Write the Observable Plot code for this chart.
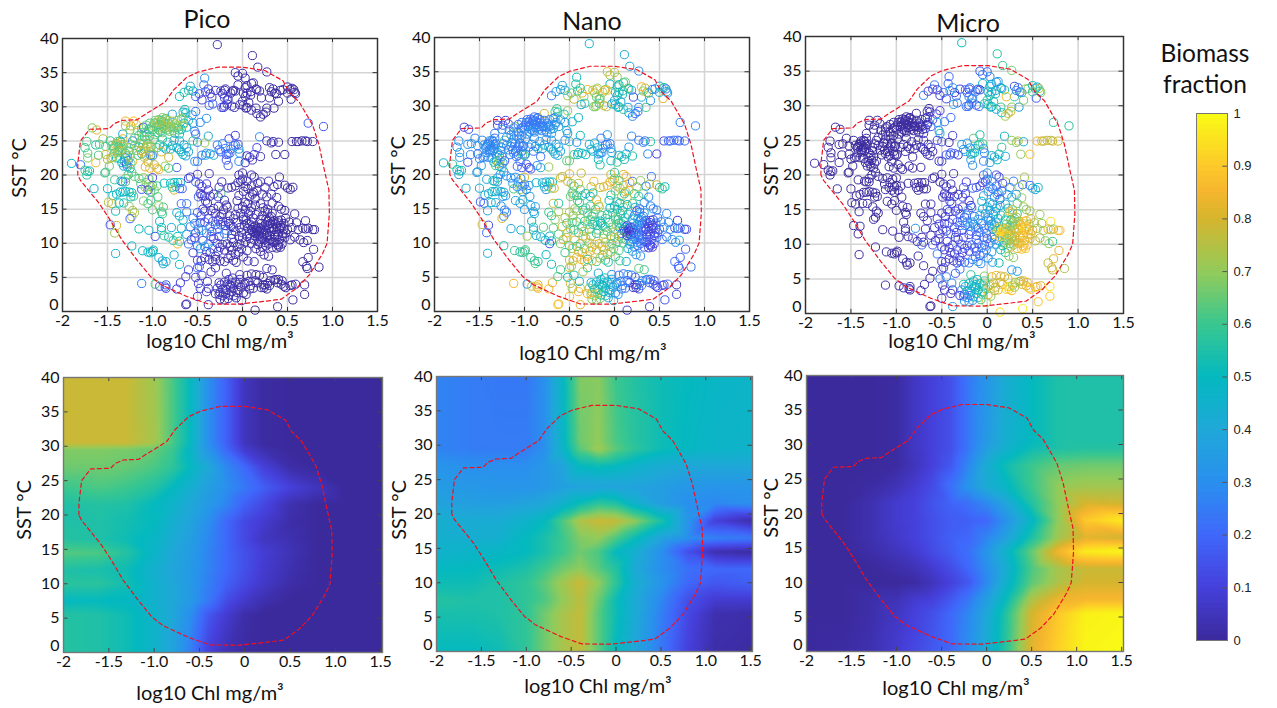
<!DOCTYPE html>
<html>
<head>
<meta charset="utf-8">
<script src="https://cdn.jsdelivr.net/npm/d3@7"></script>
<script src="https://cdn.jsdelivr.net/npm/@observablehq/plot@0.6"></script>
<style>
html,body{margin:0;padding:0;background:#fff}
#page{position:relative;width:1277px;height:708px;overflow:hidden;font-family:Lato,"Open Sans",sans-serif;color:#111}
#page svg{position:absolute;background:transparent;overflow:visible}
.t{position:absolute;white-space:nowrap;transform:translate(-50%,-50%);line-height:1}
.r{transform:translate(-50%,-50%) rotate(-90deg)}
</style>
</head>
<body>
<div id="page"></div>
<script>
// Tick values and labels
const xTicks = [-2,-1.5,-1,-0.5,0,0.5,1,1.5];
const xTickLabels = ["-2","-1.5","-1.0","-0.5","0","0.5","1.0","1.5"];
const yTicks = [0,5,10,15,20,25,30,35,40];
const barTicks = [0,.1,.2,.3,.4,.5,.6,.7,.8,.9,1];
const barLabels = ["0","0.1","0.2","0.3","0.4","0.5","0.6","0.7","0.8","0.9","1"];
const colorStops = [0,.1,.2,.3,.4,.5,.6,.7,.8,.85,.9,1];
const colorRange = ["#3b2a9c","#4640dc","#3f68fb","#2a90ee","#1fa8d8","#04b9bf","#3ac78f","#93cb5a","#d6b52e","#f5b52e","#fdc92a","#f9fb15"];

// 90% contour (log10 Chl, SST)
const contourX = [-1.83,-1.83,-1.80,-1.70,-1.48,-1.43,-1.34,-1.17,-1.08,-.98,-.86,-.77,-.62,-.49,-.27,0,.25,.45,.52,.63,.78,.85,.91,.96,.965,.94,.89,.745,.6,.43,.25,-.05,-.38,-.62,-.9,-1.02,-1.17,-1.34,-1.48,-1.59,-1.8,-1.83];
const contourY = [20,21.7,25,26.7,26.8,27.5,28,28.1,28.9,29.7,30.7,32.4,34.3,35.1,35.8,35.8,35.3,33.8,32.1,30.7,27.3,24.4,20.7,17.8,14.4,10,8.5,5.4,3.4,1.8,1.5,1.07,1.1,2.2,3.9,5.1,7.5,10.5,13.6,15.8,19.2,20];

// Observations: [log10 Chl, SST, pico %, nano %, micro %]
const outliers = [[-.28,39.1,3,46,51],[.11,37.5,2,42,56],[.17,35.8,2,38,60],[.27,35.1,3,30,67]];
const warmNorth = [
[-.42,34.2,30,50,20],[-.08,35,3,80,17],[-.05,34.5,3,72,25],[0,34.9,3,78,19],[.03,34.2,2,68,30],[-.05,33.2,5,48,47],[.1,33.4,3,60,37],[.05,33.1,3,50,47],[.12,33.5,3,65,32],
[-.55,32.3,50,45,5],[-.65,32.1,55,38,7],[-.6,32.4,55,35,10],[-.52,31.5,20,70,10],[-.48,31.9,15,62,23],[-.45,31,10,78,12],[-.36,31.9,10,82,8],[-.34,31.4,8,70,22],[-.3,32.4,6,85,9],[-.38,32.6,8,60,32],
[-.2,32.4,2,88,10],[-.19,32.6,2,70,28],[-.11,32.3,2,85,13],[-.1,32.4,2,70,28],[-.08,32.3,2,88,10],[-.16,31.1,5,65,30],[-.22,31.9,6,78,16],[-.2,31.3,10,65,25],[-.17,31,12,60,28],
[-.2,30.1,12,72,16],[-.23,29.9,12,65,23],[-.21,29.9,8,70,22],[-.17,30.4,8,60,32],[-.12,30.1,5,80,15],[-.09,29.9,4,75,21],[-.03,30.3,3,42,55],[0,30.8,3,38,59],[.01,30.2,3,48,49],[.04,29.8,2,46,52],[.05,29.9,2,52,46],[.07,30.6,2,40,58],[.1,29.5,2,60,38],[.15,29.8,2,38,60],[.16,29,2,45,53],[.2,28.5,1,28,71],[.23,28.9,1,22,77],[.26,29.2,1,20,79],[.27,29.8,1,30,69],[.35,29.8,1,62,37],[.4,30.8,2,30,68],[.3,31.3,1,42,57],
[.3,32.8,1,85,14],[.34,32.6,1,78,21],[.32,32.2,1,70,29],[.36,32,1,80,19],[.38,31.9,1,60,39],[.42,32.4,1,30,69],[.45,32.5,2,30,68],[.5,32.9,1,45,54],[.53,32.5,1,58,41],[.55,32.7,1,55,44],[.57,32.5,1,22,77],[.58,32.1,1,40,59],[.59,31.9,1,30,69],[.54,31.1,1,82,17],[.5,32,2,38,60],
[.19,32.3,2,42,56],[.21,31.3,1,12,87],[.15,32.6,2,70,28],[.16,32.5,2,48,50],[.09,32.2,2,60,38],[.05,32,2,45,53],[.03,32.8,2,55,43],[.01,32,3,55,42],[.03,31.5,3,48,49],[.09,31.7,2,52,46],
[-.66,29.2,40,62,3],[-.63,29.1,50,55,5],[-.52,29.3,22,70,10],[-.4,28.3,32,48,20],[-.47,27.7,30,46,24],[-.56,28.8,35,56,9],[-.7,31.5,50,25,25],[-.58,33,38,40,22],[-.64,29.6,52,60,0],[-.33,30.4,18,58,24],[-.37,30.2,20,42,38],[-.24,32.3,8,72,20],[-.13,32,3,72,25],[-.41,32.2,12,58,30],[-.43,33.2,25,55,20]
];
const warmMid = [
[-.7,26,55,40,5],[-.68,26.7,50,38,12],[-.65,27.6,50,35,15],[-.62,27,45,38,17],[-.6,28,55,32,13],[-.66,28.3,62,35,3],[-.72,27,58,32,10],[-.55,27.6,32,30,38],[-.53,26.4,28,45,27],[-.52,26,18,28,54],[-.38,25.7,40,50,10],[-.4,23.2,35,50,15],[-.41,22.9,38,42,20],[-.36,23.1,32,48,20],[-.45,22.9,25,60,15],[-.5,22,22,66,12],[-.53,22,30,64,6],[-.5,24.8,25,60,15],[-.42,24.7,70,30,0],[-.55,25,60,30,10],
[-.28,24.4,25,40,35],[-.26,23.7,22,46,32],[-.19,23.9,20,48,32],[-.18,23,18,30,52],[-.16,23.1,12,30,58],[-.14,23.2,30,28,42],[-.13,23.8,22,36,42],[-.15,25.3,12,24,64],[-.1,24.3,30,26,44],[-.08,24.4,18,22,60],[-.05,24.5,14,25,61],[-.04,23.8,35,35,30],[-.03,23.2,35,38,27],[-.04,22,28,48,24],[-.18,22.2,15,50,35],[-.16,21.4,18,55,27],
[.05,22.8,6,40,54],[.13,23,8,48,44],[.08,22.6,6,55,39],[.11,22.2,7,45,48],[.16,24,10,32,58],[.19,25.6,28,28,44],[.2,22.7,5,55,40],[.27,25,5,25,70],[.32,24.7,3,28,69],[.34,24.9,3,22,75],[.4,24.8,2,55,43],[.37,23,2,28,70],[.47,23,2,10,88],[.55,24.9,2,14,84],[.6,24.9,1,20,79],[.62,24.9,1,22,77],[.66,25,1,20,79],[.7,25,2,22,76],[.72,24.9,1,20,79],[.78,24.9,1,20,79],[.73,27.6,18,26,56],[.9,27.1,15,28,57],
[-.08,25.8,10,35,55],[.03,21.8,4,60,36],[-.32,22.9,42,50,8],[-.24,23.4,20,45,35],[-.22,24.6,28,40,32]
];
const tropical = [
[-1.9,21.7,48,44,2],[-1.8,21.5,22,60,1],[-1.75,20.7,62,48,1],[-1.72,20.5,55,56,1],[-1.7,20.6,50,52,0],[-1.65,18,45,44,0],[-1.73,20,58,36,0],[-1.73,24.9,62,30,1],[-1.75,24,60,32,2],[-1.72,23.2,62,34,0],[-1.72,22.5,68,34,0],[-1.67,26.9,68,10,1],[-1.62,26.6,82,15,2],[-1.63,21.8,85,14,1],[-1.6,22.9,62,28,0],[-1.63,24.4,55,34,0],[-1.59,24.5,60,30,0],[-1.55,25.3,75,26,0],[-1.52,24.2,62,32,0],[-1.52,23,78,18,1],[-1.5,22.3,75,30,0],[-1.52,20.4,60,38,1],[-1.53,20.3,62,36,0],[-1.48,21.3,65,34,1],[-1.46,22.5,80,25,0],[-1.47,25,58,30,0],
[-1.42,24.1,70,26,1],[-1.4,24.6,72,28,0],[-1.38,24.2,60,32,0],[-1.37,23.7,68,28,1],[-1.35,24.8,62,25,1],[-1.33,25.3,82,22,1],[-1.32,24.5,75,30,0],[-1.36,25,62,30,0],[-1.39,23.6,85,22,0],[-1.4,22.5,48,26,1],[-1.33,26,40,26,0],[-1.3,22.5,20,62,2],[-1.31,22,52,34,1],[-1.29,21.6,10,78,1],[-1.28,22.8,45,52,1],[-1.26,23.5,52,48,1],[-1.25,21,48,55,0],[-1.24,24.5,70,26,2],[-1.22,25,25,62,1],[-1.22,22,85,12,2],[-1.25,22.6,72,25,0],[-1.27,20,60,36,1],[-1.3,19.5,68,32,0],[-1.33,19,15,58,1],[-1.3,27.9,85,8,1],[-1.21,27.9,88,10,1],[-1.24,27.2,80,15,0],[-1.18,27.4,85,12,1],[-1.3,27.2,70,12,0],[-1.25,26.6,68,32,0],[-1.17,26.5,70,25,1],[-1.15,25.8,60,30,2],[-1.2,25.4,62,30,0],
[-1.12,25.2,72,28,0],[-1.1,24.6,65,28,0],[-1.08,23.9,72,26,1],[-1.05,24.6,80,24,1],[-1.03,23.4,82,22,0],[-1.15,24.1,55,28,1],[-1.12,23.1,50,32,0],[-1.09,22.6,78,22,1],[-1.05,21.9,80,20,0],[-1.03,21,85,15,2],[-1.08,21.2,80,22,1],[-1,22.8,25,52,1],[-.98,21.5,75,20,1],[-.95,21,85,12,1],[-.93,20.8,82,15,2],[-1.12,26.8,65,28,0],[-1.1,27,12,68,2],[-1.07,26.2,60,22,0],[-1.04,26.7,50,26,0],[-1.02,26.9,62,24,1],[-1,26.6,60,28,1],[-.98,27.6,60,25,1],[-.96,27,72,22,1],[-.94,27.2,65,24,0],[-.92,27.4,62,30,1],[-.9,26.9,68,25,0],[-.88,27.8,55,30,1],[-.87,26.8,75,22,0],[-.85,27.6,70,25,2],[-.9,28,60,25,1],[-.93,28.1,62,27,0],[-.85,28.3,70,18,0],[-.88,27.3,70,28,1],[-.84,26.6,62,22,1],[-.82,27.5,60,25,2],[-.8,27.1,70,26,0],[-.79,27,72,24,0],[-.77,26.5,68,28,1],[-.75,27.5,72,30,1],[-.75,26.1,60,28,1],[-.78,28.9,38,78,0],[-.72,28,65,30,1],[-.68,28.2,72,25,2],[-.66,27.3,72,32,1],[-.71,26.6,60,34,1],
[-.95,24,60,34,1],[-.92,24.4,58,30,0],[-.88,24.1,50,32,1],[-.85,23.8,45,42,2],[-.8,23.8,48,45,2],[-.78,24.3,42,38,2],[-.73,24,45,45,2],[-.7,23.7,50,42,5],[-.68,23.4,48,42,4],[-.66,23,50,40,3],[-.65,24.4,40,38,2],[-.62,24,42,38,5],[-.6,23.4,40,40,3],[-.63,22.8,38,40,4],[-.7,25,42,30,8],[-.76,25.1,42,28,3],[-.83,24.8,58,35,1],[-.89,25.3,55,30,1],[-.82,22.6,80,22,2],[-.86,21.3,70,30,1],[-.9,23.4,82,20,1],[-.73,21.1,18,72,2],[-.82,21,60,40,1],[-.99,23,70,25,1],[-1.02,22.9,32,62,0]
];
const tropicalCore = [
[-1.45,24.3,62,30,1],[-1.43,23.9,60,32,0],[-1.41,24.4,78,22,1],[-1.39,24.9,66,28,0],[-1.38,23.3,70,26,1],[-1.36,24,62,30,0],[-1.35,23.5,78,24,1],[-1.34,24.4,68,26,0],[-1.33,23.8,65,30,1],[-1.42,23.2,66,30,0],[-1.44,22.6,72,28,1],[-1.36,22.4,62,34,0],[-1.34,21.8,50,48,1],[-1.32,21.3,35,62,1],[-1.3,23.2,60,38,1],[-1.28,21.2,52,44,0],[-1.27,22.1,30,65,1],[-1.24,21.7,65,30,1],[-1.23,20.4,62,32,1],[-1.2,19.8,66,30,1],[-1.26,24,72,26,1],[-1.2,24.3,60,32,0],[-1.18,23.6,68,28,1],[-1.16,22.9,62,30,0],[-1.14,24.6,70,28,1],[-1.12,26.2,62,30,0],[-1.09,25.6,58,32,1],[-1.06,25.2,68,26,0],[-1.03,25.7,62,28,0],[-1.01,24.2,70,26,0],[-.99,25.2,62,30,1],[-.97,25.9,66,28,0],[-1.07,27.3,66,22,0],[-1.03,27.6,62,26,1],[-.99,27.2,70,24,1],[-.97,28,68,20,0],[-.95,27.7,72,22,1],[-.93,26.6,66,28,1],[-.91,26.4,62,30,0],[-.89,28.4,68,18,1],[-.87,27.2,70,28,1],[-.86,28.2,65,30,1],[-.83,28,72,22,0],[-.83,27,70,26,1],[-.81,26.4,68,28,0],[-.78,27.9,72,24,1],[-.76,26.9,66,28,1],[-.73,27.2,70,26,0],[-.91,27.8,74,22,1],[-.89,26.2,66,28,1],[-.94,26.2,60,32,1],[-1.13,23.6,78,22,1],[-1.1,23.4,80,20,0],[-1.07,22.8,76,25,1],[-1.06,24.2,72,24,0],[-1.02,24.1,70,24,1]
];
const subtropicalWest = [
[-1.42,19.3,60,38,1],[-1.35,19.1,45,50,0],[-1.3,19,60,32,1],[-1.44,17,48,44,0],[-1.4,17.2,50,40,1],[-1.36,17.5,50,45,1],[-1.33,17.5,45,48,1],[-1.3,17.6,48,42,0],[-1.26,17.5,52,40,1],[-1.23,17.4,50,46,1],[-1.24,16.8,52,36,0],[-1.21,16.9,60,32,0],[-1.5,18,50,44,0],[-1.49,16,75,18,1],[-1.45,15.8,78,20,0],[-1.41,14.7,52,38,1],[-1.37,15.9,50,48,1],[-1.32,15.9,55,40,0],[-1.26,15.4,68,32,0],[-1.22,14.8,75,28,1],[-1.2,14.5,72,22,1],[-1.23,13.9,75,28,0],[-1.25,13.6,20,80,1],
[-1.15,19.5,60,32,1],[-1.13,18.7,62,36,0],[-1.1,19.6,70,30,0],[-1.07,18.9,68,28,0],[-1.04,19.4,65,30,0],[-1.02,18.3,75,22,0],[-1,18.5,60,28,0],[-1,19.6,12,80,0],[-1.05,17.8,12,72,1],[-1.12,17.9,15,62,1],[-1.08,18.2,70,30,0],[-.98,17.8,70,25,1],[-.95,18.4,62,30,2],[-.94,16.8,62,38,2],[-1.02,17.5,62,34,0],[-1.1,16.2,68,38,0],[-1.05,15.8,62,38,0],[-1.02,16.3,60,42,1],[-1,14.9,62,32,0],[-.93,15.5,72,36,2],[-.9,14.6,60,38,2],[-.89,14.3,62,40,0],[-.88,15.3,62,38,1],[-.92,13.2,50,46,1],
[-.87,18.8,50,48,1],[-.8,18.8,52,40,0],[-.76,18.9,52,42,2],[-.74,18.3,52,55,0],[-.72,18.9,48,48,0],[-.69,18.9,48,52,0],[-.7,18,18,70,1],[-.76,17.8,80,30,1],[-.78,18.2,55,42,2],[-.67,18,18,80,1],[-.68,15.8,20,78,1],[-.73,14.5,42,60,3],[-.7,14,48,55,2],[-.66,13.4,45,70,4],[-.62,14.6,25,72,5],[-.62,15.8,22,55,5],[-.79,12.3,40,62,30],
[-1.47,12.7,15,78,1],[-1.4,12.6,78,12,1],[-1.42,11.5,72,20,0],[-1.15,12.1,52,38,0],[-1.04,11.9,48,46,1],[-.97,11,15,72,1],[-.9,11.9,55,40,2],[-.9,12.3,48,55,2],[-.87,11.1,60,42,1],[-.82,10.9,52,48,10],[-.77,10.4,58,45,3],[-.72,11,52,44,2],[-.68,12.2,50,62,5],[-.7,10.3,58,50,3],[-.72,9.9,85,12,20],[-1.23,9.6,45,55,1],[-1.41,8.5,42,42,1],[-1.11,8.9,48,60,1],[-1.05,8.7,45,56,1],[-1.02,8.6,48,58,1],[-.99,9,52,60,1],[-1,8.8,50,62,1],[-.93,7.9,44,58,1],[-.89,7.4,38,60,1],[-.85,7.3,45,55,0],[-.88,7,40,62,1],[-.76,8.3,42,48,3],[-.7,6.9,50,50,2]
];
const temperateWest = [
[-.58,19.7,12,76,2],[-.6,19.5,8,80,2],[-.52,19,22,78,3],[-.48,18.7,8,70,3],[-.45,18.3,10,62,8],[-.4,18.7,10,78,4],[-.38,17.8,6,65,5],[-.5,20.1,8,82,3],[-.37,20.2,5,78,3],[-.47,17.3,6,62,4],[-.49,16.8,18,65,3],[-.45,17,5,70,10],[-.42,16.9,8,55,8],[-.41,16.2,10,60,10],[-.36,16.9,6,62,4],[-.32,17.2,4,40,5],[-.27,16.8,8,50,15],[-.24,17.3,60,52,5],[-.2,16.3,5,80,10],[-.18,15.6,4,88,5],[-.44,15,6,72,12],[-.42,14.7,8,68,10],[-.39,15.9,4,60,15],[-.35,14.8,4,55,8],[-.32,15.1,5,60,10],[-.3,14.4,6,65,20],[-.27,15.4,4,60,8],[-.25,13.9,5,55,10],[-.23,14.2,3,70,25],[-.21,14.9,3,62,30],[-.17,15.3,2,70,20],[-.14,14,2,62,20],
[-.62,11.3,35,62,5],[-.58,12.4,22,78,5],[-.55,13.7,22,75,8],[-.53,12.9,35,62,10],[-.5,14.5,18,72,8],[-.49,12.1,30,65,10],[-.47,13,12,65,12],[-.45,11.9,32,60,10],[-.44,10.4,12,85,8],[-.4,11.5,30,60,22],[-.38,13.6,10,72,8],[-.36,12.4,32,60,12],[-.33,13.2,18,60,20],[-.3,12.7,12,72,25],[-.28,12,28,62,15],[-.26,11,10,75,15],[-.24,12.7,22,55,28],[-.22,13.2,8,55,30],[-.2,11.4,30,55,12],[-.18,11.9,25,60,18],[-.15,12.9,6,50,30],[-.13,12.5,8,55,28],[-.12,11.3,5,72,15],[-.1,12.3,5,62,22],[-.08,11.7,4,60,20],[-.06,13,4,55,25],[-.04,11,4,60,30],
[-.6,9.9,22,65,15],[-.57,10.5,15,78,5],[-.53,10.8,8,75,10],[-.5,9.6,28,65,8],[-.47,9.2,35,72,6],[-.42,9.5,38,60,10],[-.4,8.8,10,80,8],[-.38,9.9,30,62,12],[-.36,8.6,8,78,6],[-.33,9.2,25,65,18],[-.3,8.1,6,85,10],[-.27,8.8,5,80,10],[-.25,9.4,6,70,12],[-.22,9.8,3,85,18],[-.2,9,4,82,12],[-.17,9.9,3,80,15],[-.14,9.5,4,72,18],[-.1,10.1,3,78,22],[-.06,9.5,2,70,25],[-.03,9.9,3,60,18],[-.55,8.6,8,60,25],[-.5,7.5,10,78,6],[-.46,7.4,5,80,7],[-.42,7.9,5,80,8],[-.37,7.6,4,85,8],[-.33,7.3,4,82,10],[-.3,7.6,3,60,15],[-.25,7.4,3,85,15],[-.2,7.3,3,62,28],[-.16,7.8,2,72,25],[-.13,8.2,2,65,20],[-.1,7.5,2,60,30],[-.07,7.2,2,55,28]
];
const temperateEast = [
[-.12,18.2,3,80,15],[-.08,18.4,3,85,12],[-.05,18.9,3,82,12],[-.02,19.1,3,85,12],[0,19.4,3,70,20],[.03,18.3,2,72,24],[-.04,20,3,78,18],[.0,20.3,3,60,36],[.1,20,3,82,14],[.13,19.7,3,85,12],[.2,19,4,22,74],[.29,19.1,5,70,25],[.25,18.2,2,70,28],[.41,19.7,2,25,73],[.39,18.6,2,78,20],[.35,18.3,2,28,70],[.47,18.5,2,78,20],[.5,18.1,1,58,41],[.53,17.9,1,60,39],[.56,18.2,1,50,49],[.06,18,3,75,22],[.01,17.6,2,68,30],[.12,17.5,2,72,26],[.16,17.7,2,80,18],[.11,17.2,2,55,43],[.08,16.8,2,72,25],[.22,17.2,2,60,38],[.27,16.8,2,55,43],[.32,17.2,2,65,33],[.38,16.7,2,28,70],[-.04,17,3,58,38],[-.06,16.2,3,50,48],[.03,16,2,60,38],[.14,16.5,2,85,13],[.2,15.8,2,60,38],[.23,15.2,2,45,53],[.33,15.9,2,35,63],[.4,15.4,2,25,73],[.43,15,2,30,68],[.58,14.3,1,28,71],[.47,14.8,1,25,74],
[.0,15.4,3,50,40],[.03,14.9,3,55,40],[.07,14.3,3,55,41],[.09,14.7,3,48,48],[.12,13.7,2,58,39],[.15,14.2,2,45,52],[.2,13.5,2,45,53],[.25,14.7,2,15,83],[.28,14.5,2,20,78],[.3,13.7,2,35,63],[.33,14.4,2,42,56],[.01,13.5,4,65,25],[.02,12.6,4,70,24],[.05,12.9,3,55,38],[.08,12.8,3,60,36],[.1,12,2,48,49],[.11,11.7,1,5,94],[.13,11.6,1,4,95],[.15,11.4,1,5,94],[.17,11.7,1,4,95],[.19,11.8,1,5,94],[.16,12.1,1,6,92],[.14,12.5,1,8,91],[.2,12.2,2,12,85],[.23,12,2,25,73],[.26,11.9,2,28,70],[.28,12.6,2,22,76],[.31,12.9,2,28,70],[.34,12.3,2,25,73],[.37,12.8,1,15,84],[.4,13.3,1,8,91],[.43,12.3,1,10,89],[.46,12.9,1,30,69],[.38,11.7,1,8,91],[.41,12.1,1,6,93],[.45,11.4,1,12,87],[.5,12,1,20,79],[.55,12.3,1,25,74],[.6,13,1,30,69],[.62,12,1,30,69],[.7,13.3,1,5,94],[.67,12.2,1,15,84],[.7,12.1,1,22,77],[.73,12.2,1,30,69],[.78,12,1,12,87],[.8,12,1,14,86],[.52,13.1,1,25,74],[.48,13.7,1,22,77],
[.05,11,2,70,25],[.03,10.2,3,65,22],[.08,10.7,2,62,30],[.1,10,2,60,35],[.13,10.5,2,65,30],[.17,9.8,2,40,50],[.2,10.6,2,30,65],[.22,9.4,2,25,72],[.25,10.1,2,32,60],[.27,10.9,2,28,70],[.29,9.9,2,25,72],[.31,10.6,1,22,77],[.34,10.2,1,20,79],[.36,10.9,1,18,81],[.39,9.8,1,12,87],[.42,9.4,1,10,89],[.44,9.9,1,12,87],[.41,10.5,1,18,81],[.47,10.8,1,20,79],[.53,10.5,1,25,74],[.58,10.9,1,22,77],[.64,10.5,1,32,67],[.68,10.1,1,28,70],[.72,10.4,1,38,60],[.79,9.1,1,18,82],[.2,8.8,2,40,58],[.24,8.3,2,28,70],[.29,8.1,2,30,68],[.05,8.9,3,62,30],[.13,7.3,3,45,52],[.01,8,3,62,30],[.06,7.4,4,60,36],[.73,7.9,1,18,81],[.67,7.3,1,22,77],[.71,6.6,1,18,80],[.72,6.3,1,20,79],[.85,6.5,1,25,74],[.27,6.3,3,65,32],[.33,6.1,3,60,37]
];
const temperateCore = [
[-.02,14.4,4,60,32],[.01,13.9,3,62,32],[.04,13.4,3,58,36],[.06,12.2,2,52,44],[.08,11.4,2,18,80],[.1,13.1,2,55,42],[.12,12.3,2,25,73],[.14,11.1,1,6,93],[.16,11.9,1,6,93],[.18,12.3,1,12,86],[.18,11.2,1,6,93],[.21,11.5,1,8,91],[.21,12.9,2,38,60],[.22,10.9,2,25,73],[.24,11.4,2,22,76],[.25,12.7,2,30,68],[.26,13.5,2,42,56],[.27,11.2,2,20,78],[.28,13.2,2,32,66],[.3,12.2,2,24,74],[.3,11.2,1,22,77],[.32,11.7,1,20,79],[.33,13.1,1,25,74],[.35,12,1,12,87],[.35,13.3,1,20,79],[.36,11.2,1,14,85],[.38,12.4,1,12,87],[.39,13,1,10,89],[.4,11.3,1,12,87],[.42,12.6,1,8,91],[.43,13.4,1,14,85],[.44,11.1,1,10,89],[.46,12.1,1,15,84],[.48,11.5,1,18,81],[.24,10.5,2,28,70],[.26,9.6,2,22,76],[.3,10.4,1,24,75],[.33,9.4,1,18,81],[.36,10.1,1,15,84],[.38,9.3,1,10,89],[.4,9.6,1,10,89],[.18,10.2,2,30,65],[.15,9.2,2,45,52],[.22,14,2,28,70],[.28,15,2,22,76],[.32,13.9,2,25,73],[.06,15.8,3,50,46],[.1,15.2,3,65,32],[.14,15.6,2,52,46],[-.05,15.1,3,50,42],[-.08,14.2,3,55,36],[-.1,13.6,4,60,32],[-.03,12.3,3,65,28],[-.01,11.6,3,72,20],[0,10.8,3,78,16],[-.12,10.7,4,72,18],[-.16,13.2,4,50,35],[-.19,12.6,6,55,30],[-.27,13.4,6,62,22],[-.34,11.7,10,72,10],[-.42,13.1,12,58,15],[-.46,14,15,70,8],[-.52,11.5,12,82,6],[-.28,10,8,75,12],[-.32,10.7,10,70,12],[-.35,11,12,80,8],[-.12,9,3,85,14],[-.08,8.4,3,80,18],[-.04,8.7,3,70,25],[-.01,9.2,3,65,28],[.1,18.4,2,78,20],[.05,19.1,3,62,35],[.17,18.8,3,84,14],[-.16,18.1,3,78,18],[-.23,19,6,85,10],[-.26,18.2,4,76,15]
];
const coldBand = [
[-1.12,4.1,25,85,2],[-.97,4,62,32,2],[-.92,3.7,12,75,3],[-.86,3.6,20,85,3],[-.85,3.9,15,80,2],[-.85,3.4,15,85,1],[-.73,3.3,8,85,2],[-.69,4.2,10,82,3],[-.63,5.1,8,62,2],[-.63,1,3,92,1],[-.62,1.1,5,85,0],[-.6,6.1,12,60,2],[-.52,5,10,50,25],[-.49,4.1,8,78,8],[-.5,2.2,8,85,5],[-.47,3.4,12,70,5],[-.4,2.9,6,85,6],[-.38,3.4,6,78,4],[-.39,4.4,6,45,30],[-.38,1,5,82,35],[-.45,5.3,8,55,25],[-.48,6.6,15,70,10],[-.5,6.4,20,78,8],[-.35,5.8,5,72,15],[-.3,6.4,4,60,25],[-.26,4.2,4,42,55],[-.28,3.4,5,70,28],[-.26,2.5,4,72,30],[-.25,1.8,3,70,30],[-.22,2.3,4,78,28],[-.2,1.7,3,65,40],[-.2,4.3,5,52,50],[-.18,5.6,5,42,58],[-.15,4.7,4,48,52],[-.14,3.9,3,42,50],[-.12,4.2,3,48,50],[-.1,2.3,3,45,60],[-.1,3.4,2,55,45],[-.08,4.3,2,45,50],[-.06,2.8,2,38,60],[-.04,4,2,45,55],[-.03,5.4,3,30,68],[-.02,3.6,2,42,60],[-.01,1.6,3,50,75],[.01,2.7,2,28,82],[.02,4,2,30,80],[.03,4.2,2,35,78],[.05,5.3,2,22,80],[.1,5.5,2,25,85],[.15,5.4,2,30,80],[.19,5.3,2,24,78],[.23,5,2,18,82],[.12,3.4,1,22,85],[.17,4.2,1,15,80],[.14,.2,1,8,95],[.21,3.5,1,8,92],[.23,3.9,1,8,90],[.24,3.5,1,5,92],[.25,3.9,1,6,95],[.35,4.6,1,22,78],[.37,4.7,1,25,75],[.39,4.2,1,18,82],[.4,4.7,1,22,80],[.44,4.5,1,15,85],[.46,3.7,1,12,88],[.48,3.5,1,10,90],[.53,3.8,1,12,86],[.55,3.9,1,15,85],[.59,4,1,20,80],[.39,.7,1,8,98],[.56,1.7,1,15,88],[.69,3.9,1,5,95],[.69,2.5,1,12,90],
[-.3,2.6,4,85,12],[-.25,2.8,3,82,15],[-.18,3.2,3,60,40],[-.15,2.4,3,55,45],[-.13,3.7,3,50,48],[-.07,2,3,38,62],[.04,2.5,2,30,70],[.08,3.3,2,25,75],[.28,4.1,1,30,70],[.3,3.8,1,26,74],
[-.24,3.9,4,45,45],[-.22,3.3,4,55,40],[-.17,4,4,40,50],[-.11,4.9,4,50,42],[-.16,1.9,3,68,32],[-.19,2.6,4,70,25],[-.12,2.9,3,52,48],[-.05,3.1,2,45,55],[-.03,4.7,2,38,60],[.07,4.4,2,28,74],[.09,3.8,2,26,78],[.14,4.5,1,20,80],[.27,3.3,1,15,85],[.31,4.5,1,28,72],[.43,4,1,18,82]
];
const observations = [...outliers,...warmNorth,...warmMid,...tropical,...tropicalCore,...subtropicalWest,...temperateWest,...temperateEast,...temperateCore,...coldBand];

// Gridded model output (rows: SST, columns: log10 Chl)
const gridX = [-2,-1.6,-1.3,-1,-.8,-.6,-.4,-.2,0,.2,.5,.8,1.1,1.52];
const gridY = [0,5.5,7.5,10,12,14.5,16.5,19,21.5,24,27,29.5,30.5,40];
const picoGrid = [
[.56,.55,.52,.46,.38,.26,.1,.04,.01,0,0,0,0,0],
[.56,.55,.52,.46,.4,.3,.16,.08,.02,0,0,0,0,0],
[.5,.5,.49,.45,.4,.34,.24,.13,.07,.03,0,0,0,0],
[.57,.57,.53,.45,.4,.34,.26,.18,.12,.07,.02,0,0,0],
[.55,.54,.52,.44,.39,.34,.27,.2,.14,.08,.03,0,0,0],
[.63,.62,.56,.47,.4,.35,.27,.2,.14,.09,.04,0,0,0],
[.56,.55,.52,.48,.42,.36,.28,.2,.12,.06,.03,0,0,0],
[.55,.55,.53,.5,.44,.38,.3,.2,.12,.08,.02,0,0,0],
[.55,.56,.55,.5,.46,.4,.34,.27,.18,.12,.03,0,0,0],
[.6,.62,.6,.56,.5,.44,.36,.3,.24,.18,.1,.05,0,0],
[.66,.66,.65,.62,.58,.5,.4,.28,.2,.1,.02,0,0,0],
[.68,.68,.67,.65,.6,.48,.32,.2,.08,.03,0,0,0,0],
[.78,.78,.78,.73,.62,.5,.3,.18,.05,.01,0,0,0,0],
[.78,.78,.78,.72,.62,.5,.3,.18,.05,.01,0,0,0,0]
];
const nanoGrid = [
[.5,.5,.52,.58,.66,.73,.77,.64,.5,.4,.24,.1,.02,.01],
[.54,.54,.55,.58,.66,.73,.77,.64,.52,.42,.26,.12,.03,.02],
[.56,.55,.55,.58,.62,.7,.76,.66,.52,.42,.28,.14,.08,.08],
[.52,.52,.55,.58,.64,.72,.78,.7,.58,.44,.32,.2,.16,.18],
[.5,.5,.52,.55,.6,.66,.7,.64,.56,.42,.3,.22,.2,.2],
[.45,.47,.48,.5,.54,.6,.66,.62,.5,.44,.3,.14,.03,.01],
[.44,.43,.44,.5,.54,.6,.68,.7,.62,.52,.38,.3,.26,.24],
[.44,.42,.42,.46,.5,.62,.74,.78,.77,.7,.55,.32,.1,.02],
[.38,.36,.36,.38,.4,.45,.52,.58,.56,.46,.36,.3,.28,.3],
[.35,.33,.32,.32,.33,.36,.38,.38,.38,.38,.36,.33,.32,.32],
[.32,.3,.3,.3,.33,.38,.5,.52,.5,.46,.42,.4,.4,.4],
[.27,.25,.25,.25,.3,.46,.64,.72,.64,.58,.52,.49,.47,.46],
[.27,.25,.25,.25,.3,.47,.66,.7,.62,.57,.52,.49,.47,.46],
[.27,.25,.24,.24,.3,.48,.68,.69,.6,.56,.52,.5,.48,.47]
];
const microGrid = [
[0,.01,.03,.08,.12,.16,.2,.3,.42,.56,.82,.92,.99,1],
[0,0,.02,.06,.1,.14,.2,.28,.4,.55,.8,.9,.98,.99],
[0,0,.02,.04,.08,.1,.16,.24,.36,.5,.74,.84,.86,.86],
[0,0,0,0,.01,.05,.1,.16,.28,.44,.64,.74,.8,.8],
[0,0,0,.02,.04,.08,.13,.2,.3,.42,.62,.73,.78,.78],
[0,0,.02,.05,.08,.13,.17,.22,.32,.45,.65,.85,.97,.99],
[0,0,.03,.07,.1,.14,.18,.2,.27,.36,.55,.72,.82,.8],
[0,0,.03,.08,.1,.14,.17,.18,.2,.3,.48,.7,.9,.97],
[0,0,.03,.08,.1,.15,.19,.22,.28,.38,.56,.7,.8,.79],
[0,0,.01,.04,.08,.13,.22,.32,.42,.48,.6,.7,.72,.72],
[0,0,0,.01,.05,.1,.16,.28,.42,.52,.6,.65,.66,.66],
[0,0,0,.01,.06,.1,.14,.24,.36,.44,.52,.55,.56,.56],
[0,0,0,.01,.06,.1,.14,.24,.34,.43,.5,.55,.55,.55],
[0,0,0,.01,.06,.1,.14,.24,.32,.42,.5,.55,.55,.55]
];

// Panel placement: left, right, top, bottom of each frame
const scatterPanels = [
  {key:"pico",box:[62,377,38,311]},
  {key:"nano",box:[434,749,37,311]},
  {key:"micro",box:[805,1123,36,313]}
];
const heatPanels = [
  {grid:picoGrid,box:[63,382,377,652]},
  {grid:nanoGrid,box:[436,752,376,651]},
  {grid:microGrid,box:[806,1123,375,651]}
];
const texts = [
  ["Pico",207,18,25,0],["Nano",592,20,25,0],["Micro",968,22,25,0],
  ["SST °C",18,168,20,1],["SST °C",397,166,20,1],["SST °C",770,166,20,1],
  ["SST °C",23,510,20,1],["SST °C",398,510,20,1],["SST °C",770,508,20,1],
  ["log10 Chl mg/m³",220,340,20,0],["log10 Chl mg/m³",593,352,20,0],["log10 Chl mg/m³",962,340,20,0],
  ["log10 Chl mg/m³",210,692,20,0],["log10 Chl mg/m³",598,685,20,0],["log10 Chl mg/m³",956,687,20,0],
  ["Biomass",1205,53,24.5,0],["fraction",1205,84,24.5,0]
];

const page = document.getElementById("page");
const M = {l:44,r:26,t:12,b:30};
const colorScale = {type:"linear",domain:colorStops,range:colorRange,clamp:true};
const xFormat = d => xTickLabels[xTicks.indexOf(d)];
const contour = contourX.map((x,i)=>({x,y:contourY[i]}));
const contourMark = Plot.line(contour,{x:"x",y:"y",stroke:"#f01020",strokeWidth:1.2,strokeDasharray:"4,3",curve:"linear"});

function axes(col,xMax){
  return [
    Plot.axisX(xTicks,{anchor:"bottom",tickSize:0,tickPadding:3,tickFormat:xFormat,fill:"#111",label:null}),
    Plot.axisY(yTicks.slice(1),{anchor:"left",tickSize:0,tickPadding:4,fill:"#111",label:null}),
    Plot.axisY(yTicks.slice(0,1),{anchor:"left",tickSize:0,tickPadding:4,fill:"#111",label:null,dy:-7}),
    Plot.ruleX(xTicks,{y1:0,y2:.6,stroke:col}),
    Plot.ruleX(xTicks,{y1:40,y2:39.4,stroke:col}),
    Plot.ruleY(yTicks,{x1:-2,x2:-1.95,stroke:col}),
    Plot.ruleY(yTicks,{x1:xMax,x2:xMax-.05,stroke:col})
  ];
}
function place(box,xMax,marks){
  const [l,r,t,b] = box;
  const svg = Plot.plot({
    width:r-l+M.l+M.r,height:b-t+M.t+M.b,
    marginLeft:M.l,marginRight:M.r,marginTop:M.t,marginBottom:M.b,
    x:{domain:[-2,xMax],label:null},y:{domain:[0,40],label:null},
    color:colorScale,
    style:{fontFamily:"Lato, sans-serif",fontSize:"16px",background:"transparent",color:"#111"},
    marks
  });
  svg.style.left=(l-M.l)+"px";svg.style.top=(t-M.t)+"px";
  page.appendChild(svg);
}
const pts = observations.map(([x,y,p,n,m])=>({x,y,pico:p/100,nano:n/100,micro:m/100}));
for(const {key,box} of scatterPanels){
  place(box,1.5,[
    Plot.gridX(xTicks,{stroke:"#d4d4d4",strokeOpacity:1,strokeWidth:1.5}),
    Plot.gridY(yTicks,{stroke:"#d4d4d4",strokeOpacity:1,strokeWidth:1.5}),
    Plot.dot(pts,{x:"x",y:"y",stroke:key,r:4.1,strokeWidth:1,fill:"none"}),
    contourMark,
    ...axes("#333",1.5),
    Plot.frame({stroke:"#333",strokeWidth:1.4})
  ]);
}
for(const {grid,box} of heatPanels){
  const cells = gridY.flatMap((y,j)=>gridX.map((x,i)=>({x,y,v:grid[j][i]})));
  place(box,1.52,[
    Plot.raster(cells,{x:"x",y:"y",fill:"v",interpolate:"barycentric"}),
    contourMark,
    ...axes("#444",1.52),
    Plot.frame({stroke:"#777",strokeWidth:1.4})
  ]);
}
// Colour bar
const bands = d3.range(0,100).map(i=>i/100);
const bar = Plot.plot({
  width:31+8+36,height:527+20,marginLeft:8,marginRight:36,marginTop:10,marginBottom:10,
  x:{axis:null,domain:[0,1]},y:{axis:null,domain:[0,1],label:null},color:colorScale,
  style:{fontFamily:"'Liberation Sans', Arial, sans-serif",fontSize:"13px",background:"transparent"},
  marks:[
    Plot.rect(bands,{x1:0,x2:1,y1:d=>d,y2:d=>Math.min(1,d+.015),fill:d=>d+.005}),
    Plot.axisY(barTicks,{anchor:"right",tickSize:0,tickPadding:6,tickFormat:d=>barLabels[barTicks.indexOf(d)],fill:"#222",label:null}),
    Plot.ruleY(barTicks,{x1:.85,x2:1,stroke:"#555"}),
    Plot.frame({stroke:"#777",strokeWidth:1})
  ]
});
bar.style.left=(1196-8)+"px";bar.style.top=(113-10)+"px";
page.appendChild(bar);
for(const [s,x,y,f,rot] of texts){
  const d=document.createElement("div");
  d.className="t"+(rot?" r":"");
  d.textContent=s;
  d.style.left=x+"px";d.style.top=y+"px";d.style.fontSize=f+"px";
  page.appendChild(d);
}
</script>
</body>
</html>
